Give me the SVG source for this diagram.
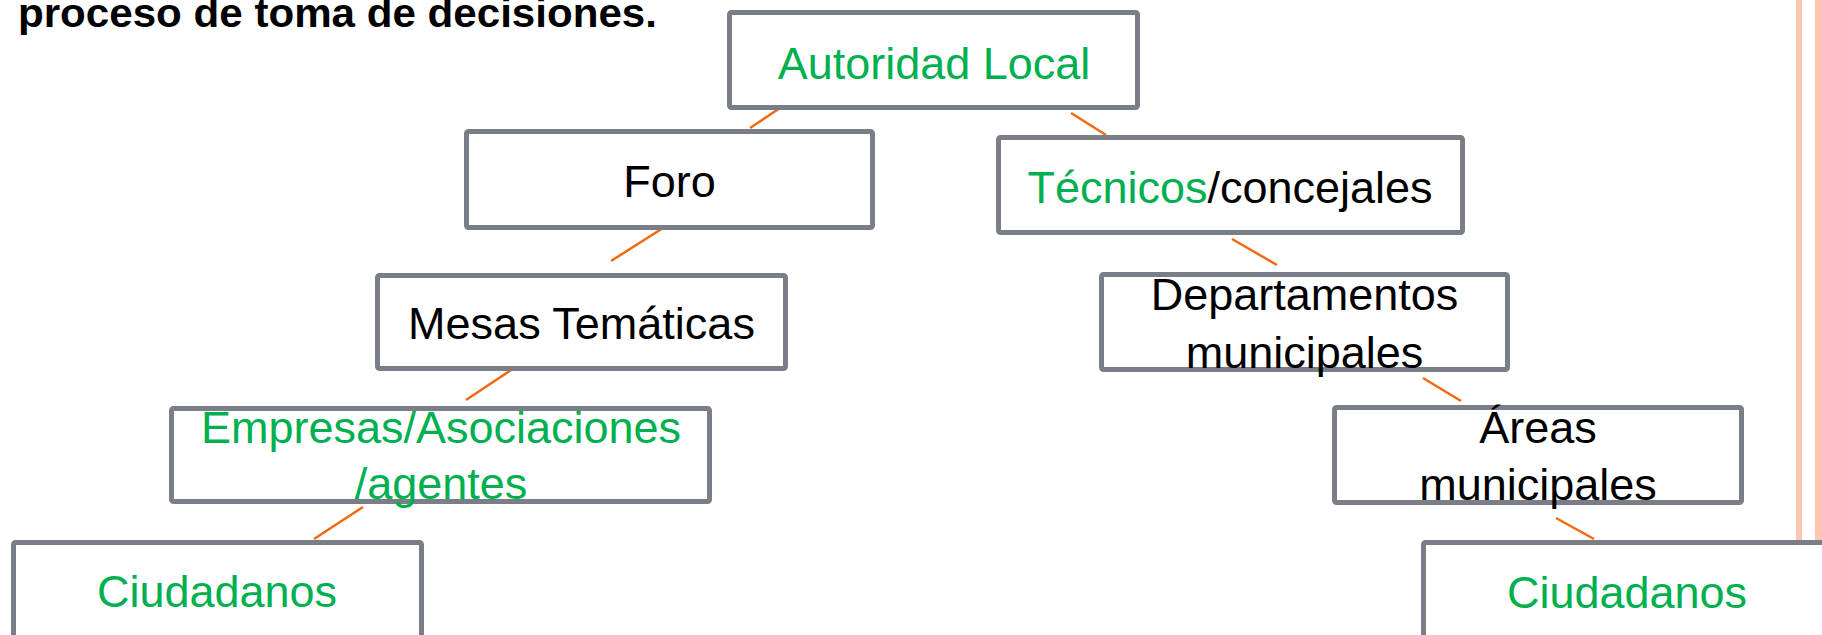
<svg xmlns="http://www.w3.org/2000/svg" width="1822" height="635" viewBox="0 0 1822 635">
<style>
.box{fill:#ffffff;stroke:#7a7e86;stroke-width:5}
.t{font-family:"Liberation Sans",Arial,sans-serif;font-size:45px;text-anchor:middle;fill:#000000}
.g{fill:#00b050}
.k{fill:#000000}
.c{stroke:#f26a10;stroke-width:2.5;fill:none}
.pk{fill:#fcc6b1}
</style>
<rect width="1822" height="635" fill="#ffffff"/>
<rect class="pk" x="1796" y="0" width="6" height="635"/>
<rect class="pk" x="1815" y="0" width="7" height="635"/>
<text x="18" y="27" font-family="'Liberation Sans',Arial,sans-serif" font-size="41" font-weight="bold" fill="#000000" textLength="639" lengthAdjust="spacingAndGlyphs">proceso de toma de decisiones.</text>
<g id="connectors">
<line class="c" x1="780" y1="108" x2="750" y2="128"/>
<line class="c" x1="1071" y1="113" x2="1106" y2="135"/>
<line class="c" x1="663" y1="228" x2="611" y2="261"/>
<line class="c" x1="517" y1="366" x2="466" y2="400"/>
<line class="c" x1="363" y1="507" x2="314" y2="539"/>
<line class="c" x1="1232" y1="239" x2="1277" y2="265"/>
<line class="c" x1="1423" y1="378" x2="1461" y2="401"/>
<line class="c" x1="1556" y1="518" x2="1594" y2="539"/>
</g>
<g id="autoridad">
<rect class="box" x="729.5" y="12.5" width="408" height="95" rx="2"/>
<text class="t g" x="934" y="79">Autoridad Local</text>
</g>
<g id="foro">
<rect class="box" x="466.5" y="131.5" width="406" height="96" rx="2"/>
<text class="t" x="669.5" y="197">Foro</text>
</g>
<g id="tecnicos">
<rect class="box" x="998.5" y="137.5" width="464" height="95" rx="2"/>
<text class="t" x="1230" y="203"><tspan class="g">Técnicos</tspan><tspan class="k">/concejales</tspan></text>
</g>
<g id="mesas">
<rect class="box" x="377.5" y="275.5" width="408" height="93" rx="2"/>
<text class="t" x="581.5" y="339">Mesas Temáticas</text>
</g>
<g id="departamentos">
<rect class="box" x="1101.5" y="274.5" width="406" height="95" rx="2"/>
<text class="t" x="1304.5" y="310">Departamentos</text>
<text class="t" x="1304.5" y="368">municipales</text>
</g>
<g id="empresas">
<rect class="box" x="171.5" y="408.5" width="538" height="93" rx="2"/>
<text class="t g" x="441" y="443">Empresas/Asociaciones</text>
<text class="t g" x="441" y="499">/agentes</text>
</g>
<g id="areas">
<rect class="box" x="1334.5" y="407.5" width="407" height="95" rx="2"/>
<text class="t" x="1538" y="443">Áreas</text>
<text class="t" x="1538" y="500">municipales</text>
</g>
<g id="ciudadanos-izq">
<rect class="box" x="13.5" y="542.5" width="408" height="100" rx="2"/>
<text class="t g" x="217" y="607">Ciudadanos</text>
</g>
<g id="ciudadanos-der">
<rect class="box" x="1423.5" y="542.5" width="410" height="100" rx="2"/>
<text class="t g" x="1627" y="608">Ciudadanos</text>
</g>
</svg>
